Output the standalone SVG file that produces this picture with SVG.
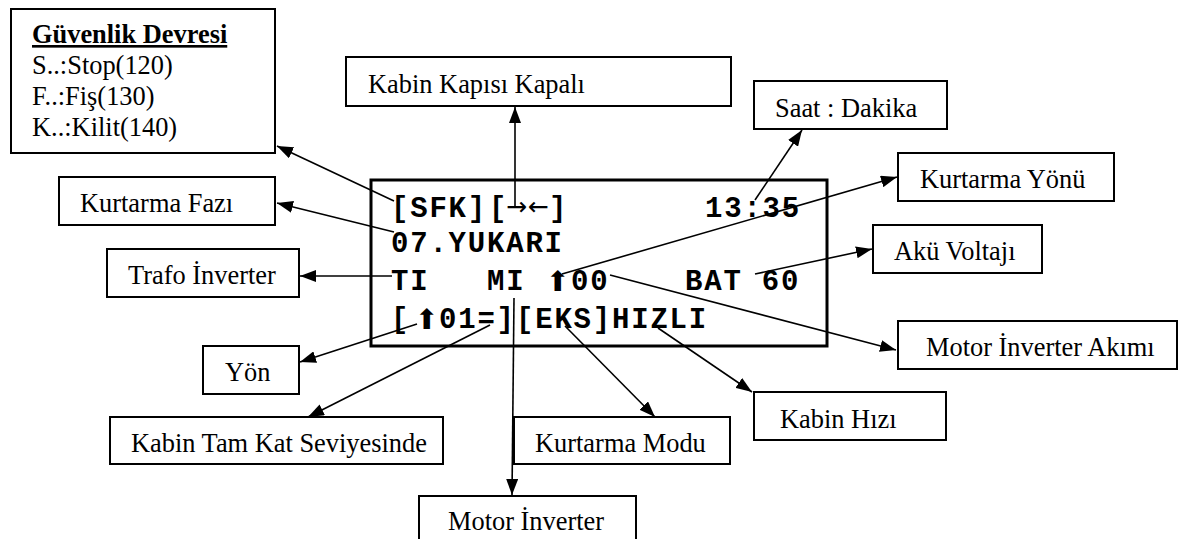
<svg xmlns="http://www.w3.org/2000/svg" width="1184" height="539" viewBox="0 0 1184 539">
<style>
.box{fill:#fff;stroke:#000;stroke-width:2}
.lcd{fill:#fff;stroke:#000;stroke-width:3}
.lbl{font-family:"Times New Roman","Liberation Serif",serif;font-size:26.4px;fill:#000}
.mono{font-family:"Courier New","Liberation Mono",monospace;font-weight:bold;font-size:29px;letter-spacing:1.8px;fill:#000}
.sym{font-family:"DejaVu Sans",sans-serif;font-size:28px;font-weight:normal;letter-spacing:0}
.thin{font-family:"DejaVu Sans",sans-serif;font-size:25px;font-weight:normal;letter-spacing:0}
.con{fill:none;stroke:#000;stroke-width:1.6;marker-end:url(#ah)}
</style>
<defs>
<marker id="ah" viewBox="0 0 16 12" refX="16" refY="6" markerWidth="16" markerHeight="12" markerUnits="userSpaceOnUse" orient="auto">
<path d="M0,0 L16,6 L0,12 z" fill="#000"/>
</marker>
</defs>
<rect width="1184" height="539" fill="#fff"/>

<g id="guvenlik">
<rect class="box" x="11" y="9" width="264" height="144"/>
<text class="lbl" x="32" y="43" font-weight="bold" text-decoration="underline">Güvenlik Devresi</text>
<text class="lbl" x="32" y="74">S..:Stop(120)</text>
<text class="lbl" x="32" y="105">F..:Fiş(130)</text>
<text class="lbl" x="32" y="136">K..:Kilit(140)</text>
</g>

<g id="kabin-kapisi">
<rect class="box" x="346" y="57" width="385" height="49"/>
<text class="lbl" x="368" y="93">Kabin Kapısı Kapalı</text>
</g>

<g id="saat">
<rect class="box" x="754" y="81" width="193" height="48"/>
<text class="lbl" x="775" y="117">Saat : Dakika</text>
</g>

<g id="kurtarma-fazi">
<rect class="box" x="59" y="177" width="216" height="48"/>
<text class="lbl" x="80" y="212">Kurtarma Fazı</text>
</g>

<g id="kurtarma-yonu">
<rect class="box" x="898" y="153" width="216" height="48"/>
<text class="lbl" x="920" y="188">Kurtarma Yönü</text>
</g>

<g id="trafo">
<rect class="box" x="107" y="249" width="192" height="48"/>
<text class="lbl" x="128" y="284">Trafo İnverter</text>
</g>

<g id="aku">
<rect class="box" x="873" y="225" width="169" height="48"/>
<text class="lbl" x="894" y="260">Akü Voltajı</text>
</g>

<g id="motor-akimi">
<rect class="box" x="898" y="321" width="279" height="48"/>
<text class="lbl" x="926" y="356">Motor İnverter Akımı</text>
</g>

<g id="yon">
<rect class="box" x="203" y="346" width="96" height="48"/>
<text class="lbl" x="225" y="381">Yön</text>
</g>

<g id="kabin-hizi">
<rect class="box" x="754" y="392" width="192" height="48"/>
<text class="lbl" x="780" y="428">Kabin Hızı</text>
</g>

<g id="kabin-tam-kat">
<rect class="box" x="110" y="417" width="333" height="47"/>
<text class="lbl" x="131" y="452">Kabin Tam Kat Seviyesinde</text>
</g>

<g id="kurtarma-modu">
<rect class="box" x="514" y="417" width="216" height="47"/>
<text class="lbl" x="535" y="452">Kurtarma Modu</text>
</g>

<g id="motor-inverter">
<rect class="box" x="419" y="496" width="217" height="60"/>
<text class="lbl" x="448" y="530">Motor İnverter</text>
</g>

<g id="lcd">
<rect class="lcd" x="371" y="180" width="456" height="166"/>
<text class="mono" y="217"><tspan x="391">[SFK]</tspan><tspan x="489">[</tspan><tspan class="thin" x="506" y="215">→</tspan><tspan class="thin" x="528" y="215">←</tspan><tspan x="549" y="217">]</tspan><tspan x="705">13:35</tspan></text>
<text class="mono" x="391" y="252">07.YUKARI</text>
<text class="mono" y="290"><tspan x="391">TI</tspan><tspan x="487">MI</tspan><tspan class="sym" x="546" y="291">⬆</tspan><tspan x="571" y="290">00</tspan><tspan x="685">BAT 60</tspan></text>
<text class="mono" y="328"><tspan x="391">[</tspan><tspan class="sym" x="415" y="329">⬆</tspan><tspan x="439" y="328">01=]</tspan><tspan x="516">[EKS]HIZLI</tspan></text>
</g>

<g id="connectors">
<path class="con" d="M394,201 L277,146"/>
<path class="con" d="M515,208 L515,107"/>
<path class="con" d="M755,200 L802,130"/>
<path class="con" d="M394,232 L277,203"/>
<path class="con" d="M562,274 L897,177"/>
<path class="con" d="M392,276 L300,276"/>
<path class="con" d="M755,274 L872,249"/>
<path class="con" d="M610,275 L896,350"/>
<path class="con" d="M417,324 L300,362"/>
<path class="con" d="M490,325 L308,417"/>
<path class="con" d="M565,326 L655,417"/>
<path class="con" d="M658,328 L752,392"/>
<path class="con" d="M514,298 L512,495"/>
</g>
</svg>
